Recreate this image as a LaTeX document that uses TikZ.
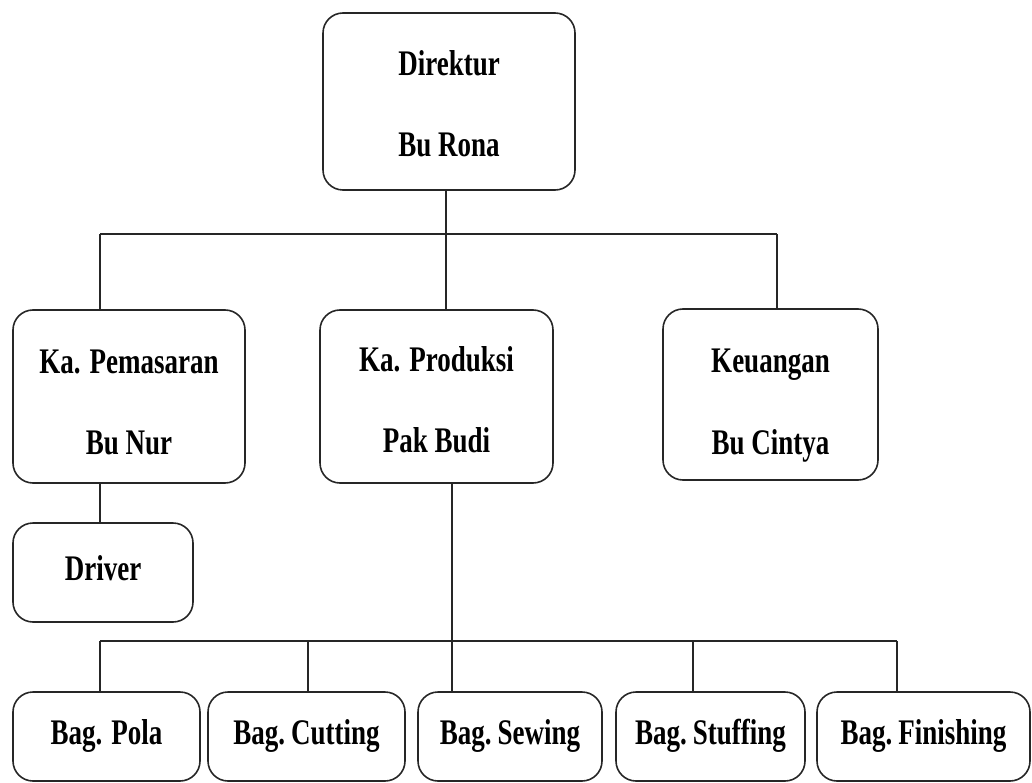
\documentclass[tikz,border=0pt]{standalone}
\usepackage{fontspec}
\setmainfont{Liberation Serif}[FakeStretch=0.75]
\newcommand{\toppad}[1]{\rule{0pt}{#1}}
\begin{document}
\begin{tikzpicture}[x = 1pt, y = -1pt,
    every node/.style = {font = \fontsize{36}{43}\selectfont\bfseries},
    box/.style = {draw = black!85, rounded corners = 20pt, line width = 1.6pt, align = center, inner sep = 0pt},
    unit/.style = {box, text height = 25pt, text depth = 9pt},
    link/.style = {draw = black!85, line width = 1.6pt}]
  \useasboundingbox (0,0) rectangle (1032,783);

  \node[box, minimum width = 252, minimum height = 177] at (449,101.5) (dir)  {\toppad{29pt}Direktur\\[38pt]Bu Rona};
  \node[box, minimum width = 232, minimum height = 173] at (129,396.5) (pem)  {\toppad{36pt}Ka. Pemasaran\\[38pt]Bu Nur};
  \node[box, minimum width = 233, minimum height = 173] at (436.5,396.5) (prod) {\toppad{32pt}Ka. Produksi\\[38pt]Pak Budi};
  \node[box, minimum width = 215, minimum height = 171] at (770.5,394.5) (keu)  {\toppad{45pt}Keuangan\\[39pt]Bu Cintya};
  \node[unit, minimum width = 180, minimum height = 99] at (103,572.5) (drv)  {Driver};

  \node[unit, minimum width = 187, minimum height = 89] at (106.5,736.5) (pola) {Bag. Pola};
  \node[unit, minimum width = 197, minimum height = 89] at (306.5,736.5) (cut)  {Bag.\,Cutting};
  \node[unit, minimum width = 184, minimum height = 89] at (510,736.5)   (sew)  {Bag.\,Sewing};
  \node[unit, minimum width = 189, minimum height = 89] at (710.5,736.5) (stuf) {Bag.\,Stuffing};
  \node[unit, minimum width = 213, minimum height = 89] at (923.5,736.5) (fin)  {Bag.\,Finishing};

  % top level
  \coordinate (t1) at (100,234);
  \coordinate (t2) at (446,234);
  \coordinate (t3) at (777,234);
  \draw[link] (t1) -- (t3);
  \draw[link] (t2 |- dir.south) -- (t2 |- prod.north);
  \draw[link] (t1) -- (t1 |- pem.north);
  \draw[link] (t3) -- (t3 |- keu.north);
  \draw[link] (t1 |- pem.south) -- (t1 |- drv.north);

  % production units
  \coordinate (b1) at (100,641);
  \coordinate (b2) at (308,641);
  \coordinate (b3) at (452,641);
  \coordinate (b4) at (693,641);
  \coordinate (b5) at (897,641);
  \draw[link] (b1) -- (b5);
  \draw[link] (b3 |- prod.south) -- (b3 |- sew.north);
  \draw[link] (b1) -- (b1 |- pola.north);
  \draw[link] (b2) -- (b2 |- cut.north);
  \draw[link] (b4) -- (b4 |- stuf.north);
  \draw[link] (b5) -- (b5 |- fin.north);
\end{tikzpicture}
\end{document}
